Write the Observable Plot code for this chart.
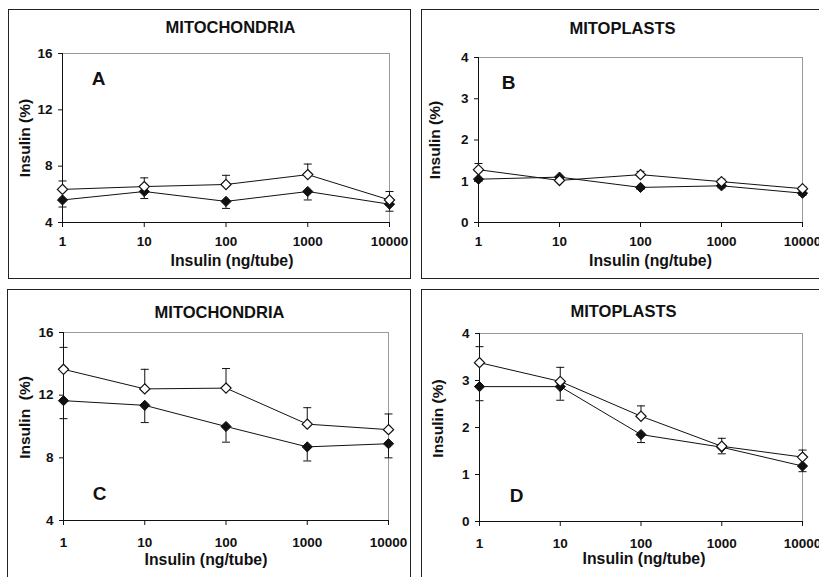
<!DOCTYPE html>
<html>
<head>
<meta charset="utf-8">
<script src="https://cdn.jsdelivr.net/npm/d3@7"></script>
<script src="https://cdn.jsdelivr.net/npm/@observablehq/plot@0.6"></script>
<style>
  body { margin: 0; background: #fff; }
  #page { position: relative; width: 819px; height: 577px; overflow: hidden; background: #fff; }
  .panel { position: absolute; }
  .panel svg { position: absolute; left: 0; top: 0; overflow: visible; }
  .box { position: absolute; left: 0; top: 0; right: 0; bottom: 0; border: 1.5px solid #222; box-sizing: border-box; pointer-events: none; }
</style>
</head>
<body>
<div id="page"></div>
<script>
// Insulin doses (ng/tube), shared by all four panels
const doses = [1, 10, 100, 1000, 10000];
const doseLabels = ["1", "10", "100", "1000", "10000"];

// Panel A: mitochondria
const aOpen = [6.35, 6.55, 6.7, 7.4, 5.6];
const aOpenErr = [0.6, 0.62, 0.65, 0.75, 0.6];
const aFilled = [5.6, 6.2, 5.5, 6.2, 5.3];
const aFilledErr = [0.5, 0.5, 0.5, 0.6, 0.5];

// Panel B: mitoplasts
const bOpen = [1.28, 1.02, 1.16, 0.99, 0.82];
const bOpenErr = [0.15, 0.05, 0.08, 0.06, 0.05];
const bFilled = [1.05, 1.1, 0.85, 0.89, 0.71];
const bFilledErr = [0.05, 0.06, 0.05, 0.05, 0.05];

// Panel C: mitochondria
const cOpen = [13.65, 12.4, 12.45, 10.15, 9.8];
const cOpenErr = [1.4, 1.25, 1.25, 1.05, 1.0];
const cFilled = [11.65, 11.35, 10.0, 8.7, 8.9];
const cFilledErr = [1.15, 1.1, 1.0, 0.9, 0.9];

// Panel D: mitoplasts
const dOpen = [3.38, 2.98, 2.24, 1.6, 1.37];
const dOpenErr = [0.34, 0.3, 0.22, 0.17, 0.15];
const dFilled = [2.87, 2.87, 1.85, 1.58, 1.18];
const dFilledErr = [0.3, 0.29, 0.17, 0.14, 0.12];

const mitoTicks = [4, 8, 12, 16];
const mitoplastTicks = [0, 1, 2, 3, 4];

const ink = "#111";
const font = "'Liberation Sans', Arial, sans-serif";

// error bar cap: short horizontal stroke
const capSymbol = { draw(ctx) { ctx.moveTo(-4, 0); ctx.lineTo(4, 0); } };

function rows(means, errs, dir) {
  return doses.map((d, i) => ({ dose: d, mean: means[i], end: means[i] + dir * errs[i] }));
}

const panels = [
  { letter: "A", title: "MITOCHONDRIA", yLabel: "Insulin (%)", open: rows(aOpen, aOpenErr, 1), filled: rows(aFilled, aFilledErr, -1),
    yDomain: [4, 16], yTicks: mitoTicks,
    box: [8, 9, 403, 270], margins: [44, 22, 57, 54],
    titleAt: [4.5, -26], letterAt: ["top-left", 36, 25], xLabelAt: [6, 38], yLabelAt: [-37, 0], xPad: 9 },
  { letter: "B", title: "MITOPLASTS", yLabel: "Insulin (%)", open: rows(bOpen, bOpenErr, 1), filled: rows(bFilled, bFilledErr, -1),
    yDomain: [0, 4], yTicks: mitoplastTicks,
    box: [421, 9, 403, 270], margins: [48, 22, 57, 57],
    titleAt: [-18, -29], letterAt: ["top-left", 30, 25], xLabelAt: [10, 38], yLabelAt: [-43, 0], xPad: 9 },
  { letter: "C", title: "MITOCHONDRIA", yLabel: "Insulin \u00a0(%)", open: rows(cOpen, cOpenErr, 1), filled: rows(cFilled, cFilledErr, -1),
    yDomain: [4, 16], yTicks: mitoTicks,
    box: [7, 289, 404, 300], margins: [43, 23, 69, 56],
    titleAt: [-6.5, -20], letterAt: ["bottom-left", 36, -27], xLabelAt: [-20, 39], yLabelAt: [-38, -9], xPad: 12 },
  { letter: "D", title: "MITOPLASTS", yLabel: "Insulin (%)", open: rows(dOpen, dOpenErr, 1), filled: rows(dFilled, dFilledErr, -1),
    yDomain: [0, 4], yTicks: mitoplastTicks,
    box: [421, 289, 403, 300], margins: [44, 22, 68, 58],
    titleAt: [-17.5, -22], letterAt: ["bottom-left", 37, -26], xLabelAt: [3, 37], yLabelAt: [-41, -9], xPad: 12 }
];

const page = document.getElementById("page");

for (const p of panels) {
  const [bx, by, bw, bh] = p.box;
  const [mt, mr, mb, ml] = p.margins;
  const chart = Plot.plot({
    width: bw,
    height: bh,
    marginTop: mt, marginRight: mr, marginBottom: mb, marginLeft: ml,
    style: { fontFamily: font, fontWeight: "bold", fontSize: "13.5px", color: ink, background: "transparent", overflow: "visible" },
    x: { type: "log", domain: [1, 10000] },
    y: { domain: p.yDomain },
    marks: [
      Plot.frame({ stroke: "#9a9a9a", strokeWidth: 1 }),
      Plot.ruleX([1], { stroke: ink, strokeWidth: 1 }),
      Plot.ruleY([p.yDomain[0]], { stroke: ink, strokeWidth: 1 }),
      Plot.axisX(doses, { tickSize: 5, tickPadding: p.xPad, tickFormat: (d) => doseLabels[doses.indexOf(d)], label: null, stroke: ink }),
      Plot.axisY(p.yTicks, { tickSize: 4, tickPadding: 6, label: null, stroke: ink }),
      // error bars: upward for open symbols, downward for filled symbols
      Plot.ruleX(p.open, { x: "dose", y1: "mean", y2: "end", stroke: ink, strokeWidth: 1 }),
      Plot.ruleX(p.filled, { x: "dose", y1: "mean", y2: "end", stroke: ink, strokeWidth: 1 }),
      Plot.dot(p.open, { x: "dose", y: "end", symbol: capSymbol, fill: "none", stroke: ink, strokeWidth: 1 }),
      Plot.dot(p.filled, { x: "dose", y: "end", symbol: capSymbol, fill: "none", stroke: ink, strokeWidth: 1 }),
      Plot.line(p.filled, { x: "dose", y: "mean", stroke: ink, strokeWidth: 1 }),
      Plot.line(p.open, { x: "dose", y: "mean", stroke: ink, strokeWidth: 1 }),
      Plot.dot(p.filled, { x: "dose", y: "mean", symbol: "diamond2", r: 4.6, fill: ink, stroke: ink, strokeWidth: 1 }),
      Plot.dot(p.open, { x: "dose", y: "mean", symbol: "diamond2", r: 4.6, fill: "white", stroke: ink, strokeWidth: 1.2 }),
      // panel title, letter and axis titles
      Plot.text([p.title], { frameAnchor: "top", dx: p.titleAt[0], dy: p.titleAt[1], textAnchor: "middle", lineAnchor: "middle", fontSize: 16.5, fill: ink }),
      Plot.text([p.letter], { frameAnchor: p.letterAt[0], dx: p.letterAt[1], dy: p.letterAt[2], textAnchor: "middle", lineAnchor: "middle", fontSize: 19, fill: ink }),
      Plot.text(["Insulin (ng/tube)"], { frameAnchor: "bottom", dx: p.xLabelAt[0], dy: p.xLabelAt[1], textAnchor: "middle", lineAnchor: "middle", fontSize: 15.8, fill: ink }),
      Plot.text([p.yLabel], { frameAnchor: "left", dx: p.yLabelAt[0], dy: p.yLabelAt[1], rotate: -90, textAnchor: "middle", lineAnchor: "middle", fontSize: 15.5, fill: ink })
    ]
  });
  const div = document.createElement("div");
  div.className = "panel";
  div.style.left = bx + "px";
  div.style.top = by + "px";
  div.style.width = bw + "px";
  div.style.height = bh + "px";
  div.appendChild(chart);
  const frame = document.createElement("div");
  frame.className = "box";
  div.appendChild(frame);
  page.appendChild(div);
}
</script>
</body>
</html>
